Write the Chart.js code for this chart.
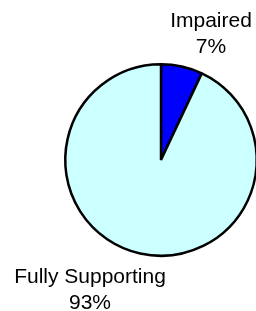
<!DOCTYPE html>
<html>
<head>
<meta charset="utf-8">
<script src="https://cdn.jsdelivr.net/npm/chart.js@4.4.0/dist/chart.umd.min.js"></script>
<style>
html,body{margin:0;padding:0;background:#fff;overflow:hidden;width:256px;height:311px;}
#wrap{position:relative;width:270px;height:311px;}
</style>
</head>
<body>
<div id="wrap"><canvas id="c" width="270" height="311"></canvas></div>
<script>
const categories = ["Impaired", "Fully Supporting"];
const values = [7, 93];
const percentLabels = ["7%", "93%"];
const colors = ["#0000FF", "#CCFFFF"];

const labelPlugin = {
  id: 'pieLabels',
  afterDraw(chart) {
    const ctx = chart.ctx;
    const meta = chart.getDatasetMeta(0);
    const anchors = [
      {x: 211, y: 27},
      {x: 90, y: 283}
    ];
    ctx.save();
    ctx.fillStyle = '#000';
    ctx.font = '21px "Liberation Sans", Arial, sans-serif';
    ctx.textAlign = 'center';
    ctx.textBaseline = 'alphabetic';
    meta.data.forEach((arc, i) => {
      const a = anchors[i];
      ctx.fillText(categories[i], a.x, a.y);
      ctx.fillText(percentLabels[i], a.x, a.y + 25.5);
    });
    ctx.restore();
  }
};

new Chart(document.getElementById('c'), {
  type: 'pie',
  data: {
    labels: categories,
    datasets: [{
      data: values,
      backgroundColor: colors,
      borderColor: '#000',
      borderWidth: 2.5,
      hoverOffset: 0
    }]
  },
  options: {
    responsive: false,
    animation: false,
    layout: { padding: { left: 64, right: 12, top: 63, bottom: 54 } },
    plugins: { legend: { display: false }, tooltip: { enabled: false } }
  },
  plugins: [labelPlugin]
});
</script>
</body>
</html>
